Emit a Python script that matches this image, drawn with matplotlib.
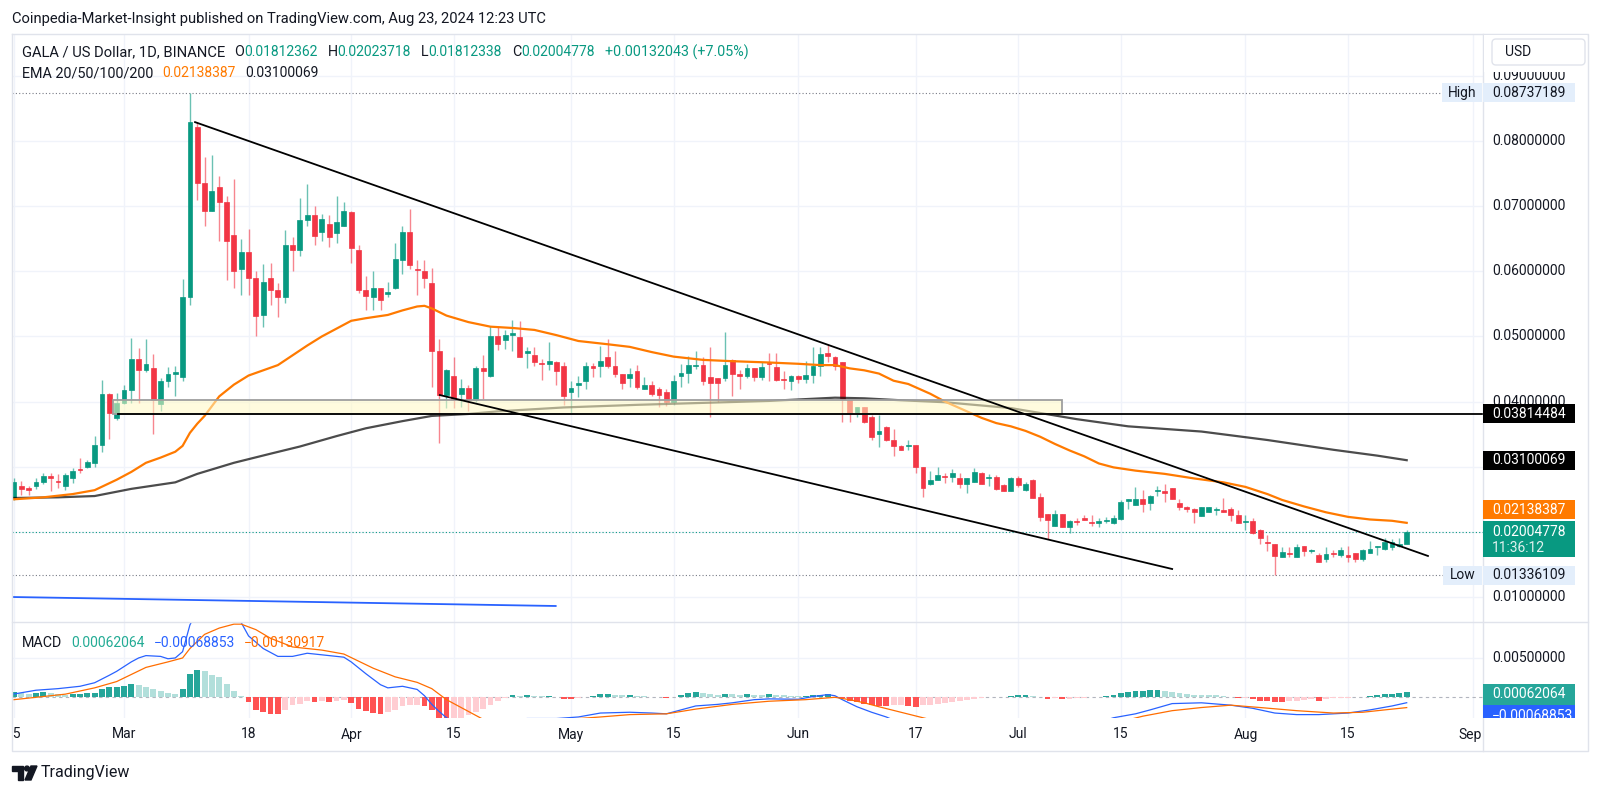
import numpy as np
import pandas as pd
import matplotlib
matplotlib.use('Agg')
import matplotlib.pyplot as plt
from matplotlib.patches import Rectangle, FancyBboxPatch, Polygon, Circle
from matplotlib.colors import to_rgba

plt.rcParams['font.family'] = ['Roboto', 'DejaVu Sans']

# ---- data (GALA/USD daily, BINANCE) ----
start = pd.Timestamp('2024-02-15')
dates = pd.date_range(start, '2024-08-23', freq='D')

opens = [0.0252, 0.0271, 0.0268, 0.0270, 0.0276, 0.0286, 0.0278, 0.0270, 0.0282, 0.0296,
         0.0299, 0.0306, 0.0334, 0.0412, 0.0375, 0.0398, 0.0418, 0.0466, 0.0448, 0.0451,
         0.0397, 0.0432, 0.0443, 0.0437, 0.0561, 0.0822, 0.0735, 0.0693, 0.0730, 0.0707,
         0.0655, 0.0604, 0.0629, 0.0589, 0.0533, 0.0590, 0.0571, 0.0560, 0.0641, 0.0632,
         0.0678, 0.0687, 0.0660, 0.0673, 0.0659, 0.0669, 0.0691, 0.0633, 0.0571, 0.0561,
         0.0575, 0.0565, 0.0574, 0.0618, 0.0660, 0.0604, 0.0601, 0.0582, 0.0477, 0.0410,
         0.0440, 0.0412, 0.0421, 0.0403, 0.0451, 0.0440, 0.0500, 0.0495, 0.0502, 0.0499,
         0.0475, 0.0472, 0.0459, 0.0458, 0.0461, 0.0454, 0.0414, 0.0426, 0.0432, 0.0454,
         0.0455, 0.0468, 0.0455, 0.0442, 0.0436, 0.0447, 0.0420, 0.0426, 0.0419, 0.0415,
         0.0400, 0.0439, 0.0444, 0.0454, 0.0456, 0.0437, 0.0436, 0.0436, 0.0464, 0.0441,
         0.0440, 0.0451, 0.0438, 0.0459, 0.0453, 0.0434, 0.0431, 0.0439, 0.0435, 0.0441,
         0.0455, 0.0474, 0.0469, 0.0460, 0.0403, 0.0382, 0.0391, 0.0376, 0.0350, 0.0361,
         0.0341, 0.0332, 0.0332, 0.0333, 0.0299, 0.0273, 0.0279, 0.0285, 0.0284, 0.0282,
         0.0273, 0.0277, 0.0291, 0.0282, 0.0284, 0.0272, 0.0263, 0.0282, 0.0264, 0.0280,
         0.0253, 0.0228, 0.0209, 0.0227, 0.0207, 0.0216, 0.0221, 0.0215, 0.0213, 0.0216,
         0.0214, 0.0219, 0.0248, 0.0241, 0.0250, 0.0244, 0.0262, 0.0263, 0.0267, 0.0244,
         0.0238, 0.0235, 0.0225, 0.0231, 0.0233, 0.0234, 0.0235, 0.0226, 0.0215, 0.0216,
         0.0203, 0.0184, 0.0182, 0.0162, 0.0168, 0.0161, 0.0178, 0.0171, 0.0165, 0.0159,
         0.0167, 0.0164, 0.0164, 0.0167, 0.0159, 0.0168, 0.0176, 0.0173, 0.0177, 0.0178,
         0.01812362]
highs = [0.0283, 0.0278, 0.0270, 0.0283, 0.0290, 0.0290, 0.0289, 0.0290, 0.0298, 0.0313,
         0.0311, 0.0347, 0.0433, 0.0413, 0.0413, 0.0426, 0.0497, 0.0483, 0.0496, 0.0473,
         0.0436, 0.0453, 0.0455, 0.0588, 0.08737189, 0.0829, 0.0776, 0.0779, 0.0747, 0.0716,
         0.0742, 0.0650, 0.0665, 0.0600, 0.0611, 0.0613, 0.0582, 0.0664, 0.0653, 0.0713,
         0.0734, 0.0700, 0.0688, 0.0687, 0.0716, 0.0706, 0.0692, 0.0641, 0.0593, 0.0600,
         0.0575, 0.0584, 0.0643, 0.0669, 0.0695, 0.0618, 0.0618, 0.0605, 0.0496, 0.0450,
         0.0468, 0.0434, 0.0426, 0.0455, 0.0472, 0.0516, 0.0515, 0.0510, 0.0526, 0.0524,
         0.0484, 0.0484, 0.0466, 0.0492, 0.0462, 0.0461, 0.0431, 0.0439, 0.0460, 0.0459,
         0.0485, 0.0496, 0.0477, 0.0442, 0.0451, 0.0456, 0.0438, 0.0431, 0.0422, 0.0420,
         0.0441, 0.0458, 0.0470, 0.0477, 0.0469, 0.0484, 0.0436, 0.0507, 0.0466, 0.0449,
         0.0458, 0.0451, 0.0461, 0.0474, 0.0475, 0.0447, 0.0441, 0.0441, 0.0463, 0.0484,
         0.0484, 0.0488, 0.0470, 0.0461, 0.0403, 0.0392, 0.0391, 0.0379, 0.0379, 0.0362,
         0.0358, 0.0333, 0.0341, 0.0333, 0.0300, 0.0294, 0.0300, 0.0290, 0.0296, 0.0291,
         0.0282, 0.0298, 0.0292, 0.0289, 0.0287, 0.0274, 0.0284, 0.0285, 0.0276, 0.0281,
         0.0260, 0.0228, 0.0234, 0.0227, 0.0218, 0.0222, 0.0226, 0.0226, 0.0221, 0.0223,
         0.0226, 0.0249, 0.0251, 0.0269, 0.0265, 0.0257, 0.0270, 0.0274, 0.0267, 0.0250,
         0.0240, 0.0236, 0.0238, 0.0238, 0.0238, 0.0252, 0.0238, 0.0233, 0.0226, 0.0221,
         0.0205, 0.0195, 0.0182, 0.0177, 0.0176, 0.0181, 0.0178, 0.0173, 0.0168, 0.0176,
         0.0172, 0.0177, 0.0178, 0.0167, 0.0173, 0.0186, 0.0178, 0.0190, 0.0189, 0.0190,
         0.02023718]
lows = [0.0249, 0.0257, 0.0257, 0.0266, 0.0273, 0.0262, 0.0267, 0.0265, 0.0275, 0.0290,
        0.0298, 0.0299, 0.0323, 0.0342, 0.0372, 0.0397, 0.0398, 0.0398, 0.0446, 0.0350,
        0.0385, 0.0423, 0.0409, 0.0431, 0.0548, 0.0710, 0.0670, 0.0693, 0.0647, 0.0587,
        0.0575, 0.0564, 0.0564, 0.0500, 0.0515, 0.0549, 0.0530, 0.0551, 0.0600, 0.0624,
        0.0670, 0.0640, 0.0646, 0.0638, 0.0644, 0.0669, 0.0612, 0.0567, 0.0540, 0.0541,
        0.0540, 0.0561, 0.0573, 0.0596, 0.0603, 0.0564, 0.0574, 0.0423, 0.0337, 0.0390,
        0.0390, 0.0392, 0.0386, 0.0400, 0.0404, 0.0437, 0.0479, 0.0480, 0.0477, 0.0468,
        0.0452, 0.0455, 0.0433, 0.0448, 0.0425, 0.0395, 0.0382, 0.0407, 0.0420, 0.0437,
        0.0437, 0.0451, 0.0437, 0.0420, 0.0422, 0.0420, 0.0419, 0.0408, 0.0391, 0.0393,
        0.0395, 0.0422, 0.0429, 0.0450, 0.0425, 0.0376, 0.0400, 0.0431, 0.0408, 0.0420,
        0.0436, 0.0431, 0.0433, 0.0431, 0.0431, 0.0419, 0.0418, 0.0429, 0.0429, 0.0429,
        0.0439, 0.0461, 0.0448, 0.0368, 0.0369, 0.0377, 0.0367, 0.0341, 0.0331, 0.0339,
        0.0317, 0.0325, 0.0326, 0.0290, 0.0254, 0.0272, 0.0279, 0.0275, 0.0277, 0.0268,
        0.0259, 0.0277, 0.0273, 0.0271, 0.0264, 0.0262, 0.0262, 0.0269, 0.0262, 0.0252,
        0.0217, 0.0189, 0.0209, 0.0207, 0.0198, 0.0211, 0.0218, 0.0209, 0.0207, 0.0213,
        0.0212, 0.0218, 0.0235, 0.0241, 0.0230, 0.0233, 0.0255, 0.0246, 0.0250, 0.0233,
        0.0231, 0.0214, 0.0225, 0.0231, 0.0226, 0.0230, 0.0217, 0.0214, 0.0203, 0.0197,
        0.0182, 0.0170, 0.01336109, 0.0161, 0.0162, 0.0161, 0.0163, 0.0168, 0.0154, 0.0153,
        0.0161, 0.0161, 0.0153, 0.0153, 0.0156, 0.0168, 0.0164, 0.0172, 0.0172, 0.0176,
        0.01812338]
closes = [0.0276, 0.0266, 0.0265, 0.0276, 0.0285, 0.0283, 0.0276, 0.0288, 0.0294, 0.0295,
          0.0307, 0.0333, 0.0412, 0.0382, 0.0398, 0.0418, 0.0466, 0.0448, 0.0458, 0.0402,
          0.0431, 0.0443, 0.0445, 0.0561, 0.0829, 0.0736, 0.0693, 0.0723, 0.0707, 0.0647,
          0.0601, 0.0629, 0.0589, 0.0532, 0.0584, 0.0571, 0.0560, 0.0641, 0.0632, 0.0679,
          0.0687, 0.0654, 0.0680, 0.0652, 0.0676, 0.0692, 0.0636, 0.0571, 0.0562, 0.0575,
          0.0556, 0.0568, 0.0619, 0.0660, 0.0609, 0.0602, 0.0590, 0.0477, 0.0410, 0.0449,
          0.0403, 0.0421, 0.0403, 0.0451, 0.0447, 0.0500, 0.0488, 0.0502, 0.0506, 0.0468,
          0.0477, 0.0460, 0.0458, 0.0462, 0.0447, 0.0409, 0.0421, 0.0427, 0.0455, 0.0452,
          0.0462, 0.0455, 0.0443, 0.0428, 0.0443, 0.0422, 0.0426, 0.0412, 0.0410, 0.0400,
          0.0431, 0.0444, 0.0456, 0.0455, 0.0432, 0.0429, 0.0429, 0.0456, 0.0442, 0.0440,
          0.0451, 0.0438, 0.0453, 0.0458, 0.0433, 0.0433, 0.0439, 0.0434, 0.0441, 0.0455,
          0.0473, 0.0470, 0.0455, 0.0404, 0.0382, 0.0391, 0.0368, 0.0346, 0.0355, 0.0341,
          0.0332, 0.0325, 0.0334, 0.0300, 0.0268, 0.0280, 0.0288, 0.0284, 0.0290, 0.0273,
          0.0282, 0.0292, 0.0274, 0.0283, 0.0266, 0.0263, 0.0282, 0.0272, 0.0274, 0.0252,
          0.0223, 0.0218, 0.0227, 0.0207, 0.0216, 0.0215, 0.0218, 0.0214, 0.0216, 0.0217,
          0.0221, 0.0246, 0.0249, 0.0250, 0.0243, 0.0255, 0.0263, 0.0259, 0.0250, 0.0238,
          0.0235, 0.0230, 0.0238, 0.0238, 0.0234, 0.0230, 0.0226, 0.0214, 0.0216, 0.0198,
          0.0190, 0.0183, 0.0163, 0.0169, 0.0166, 0.0177, 0.0170, 0.0172, 0.0154, 0.0166,
          0.0166, 0.0172, 0.0162, 0.0159, 0.0172, 0.0173, 0.0178, 0.0185, 0.0184, 0.0181,
          0.02004778]

# EMA lines (sampled along the drawn curves), x = days since Feb 15
ema_fast_x = [0, 4, 8, 11, 14, 16, 18, 20, 22, 23, 24, 25, 26, 28, 30, 32, 34, 36, 38, 40,
              42, 44, 46, 48, 51, 53, 55, 56, 57, 59, 62, 65, 68, 71, 74, 77, 81, 84, 87, 90,
              94, 98, 103, 107, 110, 112, 114, 116, 118, 120, 122, 125, 127, 130, 132, 134,
              136, 138, 140, 142, 144, 146, 148, 150, 153, 157, 161, 165, 168, 171, 173, 176,
              179, 182, 185, 188, 190]
ema_fast_y = [0.0250, 0.0253, 0.0258, 0.0264, 0.0280, 0.0292, 0.0306, 0.0314, 0.0323, 0.0332,
              0.0352, 0.0366, 0.0378, 0.0408, 0.0426, 0.0440, 0.0448, 0.0456, 0.0471, 0.0486,
              0.0500, 0.0512, 0.0524, 0.0528, 0.0533, 0.0540, 0.0546, 0.0547, 0.0543, 0.0532,
              0.0522, 0.0515, 0.0513, 0.0510, 0.0502, 0.0493, 0.0488, 0.0484, 0.0476, 0.0469,
              0.0464, 0.0462, 0.0460, 0.0458, 0.0456, 0.0456, 0.0451, 0.0448, 0.0443, 0.0432,
              0.0427, 0.0412, 0.0400, 0.0385, 0.0375, 0.0367, 0.0362, 0.0355, 0.0346, 0.0335,
              0.0325, 0.0316, 0.0305, 0.0299, 0.0294, 0.0289, 0.0282, 0.0276, 0.0269, 0.0258,
              0.0249, 0.0239, 0.0230, 0.0223, 0.0219, 0.0217, 0.02138387]
ema_slow_x = [0, 6, 11, 16, 22, 25, 30, 35, 39, 44, 48, 53, 57, 62, 66, 75, 85, 94, 103, 112,
              116, 121, 127, 136, 145, 152, 162, 171, 180, 186, 190]
ema_slow_y = [0.0252, 0.0253, 0.0255, 0.0266, 0.0276, 0.0289, 0.0306, 0.0320, 0.0331, 0.0347,
              0.0359, 0.0370, 0.0378, 0.0381, 0.0385, 0.0391, 0.0395, 0.0398, 0.0401, 0.0406,
              0.0405, 0.0402, 0.0399, 0.0390, 0.0373, 0.0362, 0.0354, 0.0341, 0.0326, 0.0317,
              0.03100069]

# MACD histogram, one bar per day
macd_hist = [0.00068, 0.00055, 0.00042, 0.00059, 0.00068, 0.00051, 0.00042, 0.00034, 0.00042, 0.00044,
             0.00051, 0.00059, 0.00110, 0.00127, 0.00136, 0.00144, 0.00169, 0.00153, 0.00136, 0.00102,
             0.00076, 0.00051, 0.00042, 0.00102, 0.00297, 0.00347, 0.00331, 0.00288, 0.00263, 0.00169,
             0.00076, 0.00017, -0.00059, -0.00157, -0.00191, -0.00208, -0.00212, -0.00157, -0.00102, -0.00085,
             -0.00051, -0.00059, -0.00042, -0.00059, -0.00051, -0.00034, -0.00076, -0.00144, -0.00178, -0.00203,
             -0.00212, -0.00191, -0.00157, -0.00110, -0.00100, -0.00095, -0.00105, -0.00160, -0.00270, -0.00310,
             -0.00300, -0.00270, -0.00229, -0.00186, -0.00144, -0.00102, -0.00051, -0.00015, 0.00034, 0.00021,
             0.00030, 0.00017, 0.00013, 0.00017, 0.00008, -0.00017, -0.00025, -0.00013, 0.00004, 0.00017,
             0.00042, 0.00044, 0.00034, 0.00025, 0.00026, 0.00017, 0.00013, 0.00008, 0.00004, -0.00008,
             0.00008, 0.00025, 0.00051, 0.00068, 0.00051, 0.00038, 0.00030, 0.00042, 0.00038, 0.00034,
             0.00038, 0.00034, 0.00030, 0.00038, 0.00034, 0.00025, 0.00017, 0.00013, 0.00013, 0.00025,
             0.00034, 0.00038, 0.00008, -0.00008, -0.00042, -0.00059, -0.00085, -0.00102, -0.00114, -0.00116,
             -0.00100, -0.00093, -0.00114, -0.00119, -0.00102, -0.00093, -0.00080, -0.00068, -0.00055, -0.00042,
             -0.00030, -0.00017, -0.00008, 0.00004, 0.00008, 0.00008, 0.00017, 0.00025, 0.00026, 0.00017,
             0.00004, -0.00017, -0.00008, -0.00025, -0.00017, -0.00010, -0.00004, 0.00008, 0.00009, 0.00013,
             0.00025, 0.00055, 0.00068, 0.00076, 0.00078, 0.00089, 0.00093, 0.00085, 0.00068, 0.00055,
             0.00042, 0.00034, 0.00033, 0.00030, 0.00025, 0.00017, 0.00008, -0.00004, -0.00003, -0.00025,
             -0.00042, -0.00051, -0.00059, -0.00064, -0.00051, -0.00042, -0.00034, -0.00025, -0.00042, -0.00025,
             -0.00013, -0.00004, -0.00003, 0.00004, 0.00008, 0.00021, 0.00030, 0.00038, 0.00042, 0.00051,
             0.00062064]

macd_x = [0, 3, 6, 9, 11, 13, 14, 16, 17, 18, 20, 21, 22, 23, 24, 25, 27, 29, 31, 32, 34, 36, 38,
          40, 42, 45, 46, 48, 50, 51, 53, 55, 56, 57, 58, 59, 61, 64, 67, 70, 74, 77, 80, 84, 87,
          89, 91, 93, 96, 98, 101, 103, 107, 109, 111, 112, 113, 115, 117, 119, 121, 125, 130,
          135, 140, 145, 148, 150, 153, 155, 158, 162, 166, 169, 172, 175, 178, 182, 185, 188, 190]
macd_y = [0.00042, 0.00090, 0.00110, 0.00140, 0.00185, 0.0028, 0.0033, 0.0045, 0.0050, 0.0053,
          0.0052, 0.0049, 0.0050, 0.0058, 0.0092, 0.0110, 0.0118, 0.0110, 0.0095, 0.0078, 0.0062,
          0.0052, 0.0052, 0.0056, 0.0054, 0.0051, 0.0045, 0.0030, 0.0016, 0.0012, 0.0014, 0.0010,
          0.0002, -0.0009, -0.0018, -0.0026, -0.0036, -0.0036, -0.0030, -0.0027, -0.0027, -0.0025,
          -0.0020, -0.0019, -0.0020, -0.0021, -0.0016, -0.0011, -0.0009, -0.0007, -0.0003, -0.0002,
          -0.00025, 0.0001, 0.00034, 0.0002, -0.0003, -0.0012, -0.0019, -0.0025, -0.0033, -0.0045,
          -0.0052, -0.0054, -0.0050, -0.0041, -0.0032, -0.0026, -0.0021, -0.0016, -0.0008, -0.0007,
          -0.0010, -0.0014, -0.0020, -0.0022, -0.0022, -0.0020, -0.0016, -0.0011, -0.00068853]
signal_x = [0, 4, 7, 11, 14, 18, 21, 23, 24, 26, 28, 30, 31, 33, 35, 38, 42, 45, 47, 49, 52, 55,
            57, 58, 59, 61, 63, 64, 67, 72, 77, 80, 84, 89, 93, 98, 103, 108, 112, 114, 116, 118,
            121, 124, 128, 134, 140, 146, 151, 154, 158, 162, 166, 170, 175, 180, 184, 187, 190]
signal_y = [-0.0003, 0.0001, 0.0004, 0.0012, 0.0020, 0.0038, 0.0045, 0.0050, 0.0062, 0.0080,
            0.0088, 0.0093, 0.0093, 0.0086, 0.0075, 0.0064, 0.0060, 0.0055, 0.0046, 0.0037, 0.0026,
            0.0019, 0.0011, 0.0004, -0.0003, -0.0013, -0.0023, -0.0028, -0.0030, -0.0029, -0.0027,
            -0.0025, -0.0022, -0.0021, -0.0015, -0.0009, -0.0005, -0.0003, 0.0000, -0.0003, -0.0007,
            -0.0012, -0.0019, -0.0026, -0.0035, -0.0044, -0.0047, -0.0040, -0.0031, -0.0024, -0.0017,
            -0.0013, -0.0010, -0.0013, -0.0017, -0.0020, -0.0019, -0.0016, -0.00130917]

# drawings on the chart
upper_line_x = [24.7, 192.9]
upper_line_y = [0.0829, 0.0163]
lower_line_x = [58.1, 158.0]
lower_line_y = [0.0410, 0.0143]
blue_line_x = [-0.3, 73.9]
blue_line_y = [0.0100, 0.00862]
support_level = 0.03814484
zone_x = [13.5, 143.0]
zone_y = [0.03814484, 0.0402]
support_start = 14.2

high_price = 0.08737189
low_price = 0.01336109
last_price = 0.02004778
countdown = '11:36:12'

price_ticks = [0.01, 0.02, 0.03, 0.04, 0.05, 0.06, 0.07, 0.08, 0.09]
tick_dates = ['2024-02-15', '2024-03-01', '2024-03-18', '2024-04-01', '2024-04-15', '2024-05-01',
              '2024-05-15', '2024-06-01', '2024-06-17', '2024-07-01', '2024-07-15', '2024-08-01',
              '2024-08-15', '2024-09-01']
tick_labels = ['15', 'Mar', '18', 'Apr', '15', 'May', '15', 'Jun', '17', 'Jul', '15', 'Aug', '15', 'Sep']

# ---- colours ----
DARK = '#131722'
UP = '#089981'
DOWN = '#f23645'
ORANGE = '#ff7a00'
GRID = '#f0f3fa'
BORDER = '#e0e3eb'

W, H = 1600, 795
fig = plt.figure(figsize=(16, 7.95), dpi=100)
fig.patch.set_facecolor('white')


def px_axes(l, t, r, b):
    return fig.add_axes([l / W, 1 - b / H, (r - l) / W, (b - t) / H])


ax = px_axes(12, 34, 1483, 622)
mx = px_axes(12, 622, 1483, 718)
tx = px_axes(12, 718, 1483, 751)
ov = fig.add_axes([0, 0, 1, 1], zorder=10)
ov.set_xlim(0, W)
ov.set_ylim(H, 0)
ov.axis('off')

xlim = ((12 - 14) / 7.33, (1483 - 14) / 7.33)
for a in (ax, mx, tx):
    a.set_xlim(*xlim)
    a.set_xticks([])
    a.set_yticks([])
    for s in a.spines.values():
        s.set_visible(False)
ax.set_ylim(0.01 - 25 / 6514, 0.01 + 563 / 6514)
mx.set_ylim(-0.002631, 0.009572)
tx.set_ylim(0, 1)

x = np.arange(len(dates))
tick_pos = [(pd.Timestamp(d) - start).days for d in tick_dates]

# grid
for p in tick_pos:
    ax.axvline(p, color=GRID, lw=1, zorder=0)
    mx.axvline(p, color=GRID, lw=1, zorder=0)
for p in price_ticks:
    ax.axhline(p, color=GRID, lw=1, zorder=0)
mx.axhline(0.005, color=GRID, lw=1, zorder=0)

# candles
o = np.array(opens)
h = np.array(highs)
l = np.array(lows)
c = np.array(closes)
up = c >= o
body_col = [UP if u else DOWN for u in up]
wick_col = [to_rgba(col, 0.6) for col in body_col]
ax.vlines(x, l, h, colors=wick_col, lw=1, zorder=3)
body_h = np.maximum(np.abs(c - o), 0.00018)
ax.bar(x, body_h, bottom=np.minimum(o, c), width=0.66, color=body_col,
       edgecolor=body_col, lw=0.5, zorder=3.5)

# EMAs
ax.plot(ema_slow_x, ema_slow_y, color='black', alpha=0.7, lw=1.6, zorder=4)
ax.plot(ema_fast_x, ema_fast_y, color=ORANGE, lw=1.6, zorder=4)

# drawings
ax.add_patch(Rectangle((zone_x[0], zone_y[0]), zone_x[1] - zone_x[0], zone_y[1] - zone_y[0],
                       facecolor='#fff9c4', alpha=0.55, edgecolor='none', zorder=5))
ax.add_patch(Rectangle((zone_x[0], zone_y[0]), zone_x[1] - zone_x[0], zone_y[1] - zone_y[0],
                       facecolor='none', edgecolor='#9e9e9e', lw=1.3, zorder=5))
ax.plot([support_start, xlim[1]], [support_level, support_level], color='black', lw=1.3, zorder=6)
ax.plot(upper_line_x, upper_line_y, color='black', lw=1.3, zorder=6)
ax.plot(lower_line_x, lower_line_y, color='black', lw=1.3, zorder=6)
ax.plot(blue_line_x, blue_line_y, color='#2962ff', lw=1.3, zorder=6)

# price lines
ax.axhline(high_price, xmin=0, xmax=(1442 - 12) / 1471, color='#787b86', lw=0.8,
           ls=(0, (1, 2)), zorder=2)
ax.axhline(low_price, xmin=0, xmax=(1444 - 12) / 1471, color='#787b86', lw=0.8,
           ls=(0, (1, 2)), zorder=2)
ax.axhline(last_price, color=UP, lw=0.8, ls=(0, (1, 2)), zorder=2)

# MACD pane
mx.axhline(0, color='#b2b5be', lw=0.8, ls=(0, (3, 3)), zorder=1)
hcols = []
for i, v in enumerate(macd_hist):
    prev = macd_hist[i - 1] if i > 0 else v
    if v >= 0:
        hcols.append('#26a69a' if v >= prev else '#b2dfdb')
    else:
        hcols.append('#ff5252' if v <= prev else '#ffcdd2')
mx.bar(x, macd_hist, width=0.8, color=hcols, zorder=2)
mx.plot(macd_x, macd_y, color='#2962ff', lw=0.9, zorder=3)
mx.plot(signal_x, signal_y, color='#ff6d00', lw=0.9, zorder=3)

# time axis labels (the first one is cut by the pane edge)
time_texts = []
for p, lab in zip(tick_pos, tick_labels):
    t = tx.text(p, 0.5, lab, ha='center', va='center', fontsize=10, color=DARK,
                clip_on=(p < 2))
    time_texts.append(t)


def y_px(a, v):
    return ov.transData.inverted().transform(a.transData.transform((0, v)))[1]


# frame
ov.plot([12, 1588, 1588, 12, 12], [34, 34, 751, 751, 34], color=BORDER, lw=1)
ov.plot([12, 1588], [622, 622], color=BORDER, lw=1)
ov.plot([1483, 1483], [34, 751], color=BORDER, lw=1)

# price scale
tag_prices = [support_level, ema_slow_y[-1], last_price]
for p in price_ticks:
    yp = y_px(ax, p)
    if min(abs(yp - y_px(ax, t)) for t in tag_prices) < 10:
        continue  # hidden behind a price tag
    ov.text(1492, yp, '%.8f' % p, fontsize=10, color=DARK, va='center', zorder=2)
ov.text(1492, y_px(mx, 0.005), '0.00500000', fontsize=10, color=DARK, va='center', zorder=2)
ov.add_patch(Rectangle((1484, 35), 103, 37, facecolor='white', edgecolor='none', zorder=3))
ov.add_patch(FancyBboxPatch((1492, 39), 93, 26, boxstyle='round,pad=0,rounding_size=4',
                            facecolor='white', edgecolor=BORDER, lw=1, zorder=4))
ov.text(1505, 52.5, 'USD', fontsize=10, color=DARK, va='center', zorder=5)


def tag(yc, text, bg, fg, x0=1483, w=92, hgt=19, clip=None):
    r = Rectangle((x0, yc - hgt / 2), w, hgt, facecolor=bg, edgecolor='none', zorder=4)
    ov.add_patch(r)
    t = ov.text(x0 + 9, yc, text, fontsize=10, color=fg, va='center', zorder=5)
    if clip is not None:
        r.set_clip_path(clip)
        t.set_clip_path(clip)


LIGHT = '#e3eefb'
yh = y_px(ax, high_price)
tag(yh, '%.8f' % high_price, LIGHT, DARK)
ov.add_patch(Rectangle((1442, yh - 9.5), 40, 19, facecolor=LIGHT, edgecolor='none', zorder=4))
ov.text(1462, yh, 'High', fontsize=10, color=DARK, va='center', ha='center', zorder=5)
tag(y_px(ax, support_level), '%.8f' % support_level, 'black', 'white')
tag(y_px(ax, ema_slow_y[-1]), '%.8f' % ema_slow_y[-1], 'black', 'white')
tag(y_px(ax, ema_fast_y[-1]) - 13, '%.8f' % ema_fast_y[-1], ORANGE, 'white')
ylp = y_px(ax, last_price)
ov.add_patch(Rectangle((1483, ylp - 10.5), 92, 36, facecolor=UP, edgecolor='none', zorder=4))
ov.text(1492, ylp, '%.8f' % last_price, fontsize=10, color='white', va='center', zorder=5)
ov.text(1492, ylp + 16, countdown, fontsize=10, color='#e0f2ef', va='center', zorder=5)
yl = y_px(ax, low_price)
tag(yl, '%.8f' % low_price, LIGHT, DARK)
ov.add_patch(Rectangle((1443, yl - 9.5), 39, 19, facecolor=LIGHT, edgecolor='none', zorder=4))
ov.text(1462.5, yl, 'Low', fontsize=10, color=DARK, va='center', ha='center', zorder=5)

macd_clip = Rectangle((1483, 622), 100, 96, transform=ov.transData)
tag(y_px(mx, macd_hist[-1]) + 2, '%.8f' % macd_hist[-1], '#26a69a', 'white', hgt=21)
tag(y_px(mx, 0) + 19, '\u2212%.8f' % abs(macd_y[-1]), '#2962ff', 'white', hgt=22, clip=macd_clip)

# legends
fig.canvas.draw()
rend = fig.canvas.get_renderer()

# keep the last time label inside the pane, as TradingView does
last = time_texts[-1]
bb = last.get_window_extent(renderer=rend)
pane_right = tx.get_window_extent(renderer=rend).x1 - 1
if bb.x1 > pane_right:
    px_per_day = tx.get_window_extent(renderer=rend).width / (xlim[1] - xlim[0])
    last.set_x(tick_pos[-1] - (bb.x1 - pane_right) / px_per_day)


def row(x0, yc, parts):
    xx = x0
    for s, col, gap, size in parts:
        t = ov.text(xx, yc, s, fontsize=size, color=col, va='center', ha='left')
        xx += t.get_window_extent(renderer=rend).width + gap


ov.text(12, 18.5, 'Coinpedia-Market-Insight published on TradingView.com, Aug 23, 2024 12:23 UTC',
        fontsize=10.6, color=DARK, va='center')
row(22, 52.5, [('GALA / US Dollar, 1D, BINANCE', DARK, 9, 10.6),
               ('O', DARK, 0, 10.3), ('%.8f' % opens[-1], UP, 10, 10),
               ('H', DARK, 0, 10.3), ('%.8f' % highs[-1], UP, 10, 10),
               ('L', DARK, 0, 10.3), ('%.8f' % lows[-1], UP, 10, 10),
               ('C', DARK, 0, 10.3), ('%.8f' % closes[-1], UP, 10, 10),
               ('+0.00132043 (+7.05%)', UP, 0, 10.3)])
row(22, 73, [('EMA 20/50/100/200', DARK, 9, 10.4), ('%.8f' % ema_fast_y[-1], ORANGE, 10, 10),
             ('%.8f' % ema_slow_y[-1], DARK, 0, 10)])
row(22, 643, [('MACD', DARK, 9, 10.3), ('%.8f' % macd_hist[-1], '#22ab94', 9, 10),
              ('\u2212%.8f' % abs(macd_y[-1]), '#2962ff', 9, 10),
              ('\u2212%.8f' % abs(signal_y[-1]), '#ff6d00', 0, 10)])

# TradingView logo
ov.add_patch(Polygon([(12, 766), (23, 766), (23, 780), (18, 780), (18, 771), (12, 771)],
                     closed=True, color=DARK))
ov.add_patch(Circle((27, 768.5), 2.4, color=DARK))
ov.add_patch(Polygon([(25, 780), (31, 766), (37, 766), (31, 780)], closed=True, color=DARK))
ov.text(41, 773, 'TradingView', fontsize=11.5, color=DARK, va='center')

fig.savefig('out.png', dpi=100, facecolor='white')
